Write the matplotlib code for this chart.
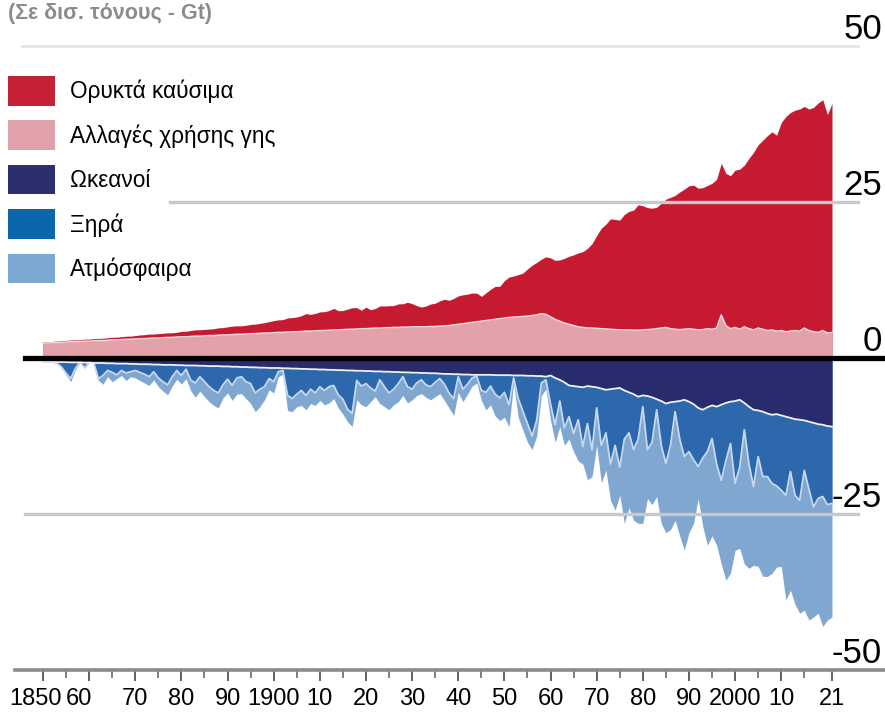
import numpy as np
import matplotlib.pyplot as plt
from matplotlib.patches import Patch
from matplotlib.transforms import ScaledTranslation

plt.rcParams['font.family'] = ['Liberation Sans', 'DejaVu Sans']

years = np.arange(1850, 2022)

# Emissions (Gt CO2 / year)
fossil = [
    0.20, 0.20, 0.21, 0.23, 0.26, 0.27, 0.29, 0.29, 0.29, 0.31,
    0.33, 0.35, 0.35, 0.37, 0.40, 0.42, 0.43, 0.47, 0.49, 0.51,
    0.54, 0.59, 0.64, 0.68, 0.64, 0.70, 0.71, 0.73, 0.74, 0.77,
    0.86, 0.89, 0.95, 1.01, 1.03, 1.03, 1.04, 1.09, 1.18, 1.17,
    1.29, 1.35, 1.36, 1.34, 1.40, 1.48, 1.53, 1.60, 1.67, 1.82,
    1.95, 2.01, 2.05, 2.27, 2.27, 2.37, 2.53, 2.82, 2.68, 2.79,
    2.99, 3.02, 3.16, 3.45, 3.08, 3.05, 3.24, 3.45, 3.42, 2.95,
    3.44, 2.99, 3.12, 3.54, 3.49, 3.53, 3.50, 3.77, 3.74, 3.98,
    3.71, 3.39, 3.16, 3.33, 3.60, 3.74, 4.06, 4.26, 4.04, 4.24,
    4.55, 4.62, 4.63, 4.71, 4.59, 3.98, 4.43, 4.91, 5.28, 5.18,
    6.00, 6.47, 6.58, 6.76, 6.95, 7.57, 8.06, 8.41, 8.73, 9.21,
    9.44, 9.44, 9.81, 10.37, 10.90, 11.33, 11.82, 12.15, 12.76, 13.54,
    14.87, 16.10, 16.80, 17.70, 17.65, 17.60, 18.50, 19.00, 19.25, 20.10,
    19.90, 19.55, 19.40, 19.45, 20.00, 20.55, 21.05, 21.45, 22.05, 22.45,
    22.90, 23.10, 22.70, 22.75, 22.95, 23.40, 23.85, 24.30, 24.38, 24.51,
    25.21, 25.65, 25.90, 27.29, 28.47, 29.38, 30.29, 31.24, 31.75, 31.39,
    33.33, 34.49, 35.04, 35.32, 35.60, 35.51, 35.49, 35.96, 36.77, 36.98,
    35.01, 36.69,
]
land_use = [
    2.40, 2.40, 2.45, 2.50, 2.50, 2.55, 2.60, 2.60, 2.65, 2.70,
    2.70, 2.75, 2.80, 2.80, 2.85, 2.90, 2.90, 2.95, 3.00, 3.00,
    3.05, 3.10, 3.10, 3.15, 3.20, 3.20, 3.25, 3.30, 3.30, 3.35,
    3.40, 3.40, 3.45, 3.50, 3.50, 3.55, 3.60, 3.60, 3.65, 3.70,
    3.70, 3.75, 3.80, 3.80, 3.85, 3.90, 3.90, 3.95, 4.00, 4.00,
    4.05, 4.10, 4.10, 4.15, 4.20, 4.20, 4.25, 4.30, 4.30, 4.35,
    4.40, 4.40, 4.45, 4.50, 4.50, 4.55, 4.60, 4.60, 4.65, 4.70,
    4.70, 4.75, 4.80, 4.80, 4.85, 4.85, 4.90, 4.90, 4.95, 4.95,
    5.00, 5.00, 5.00, 5.00, 5.05, 5.05, 5.10, 5.15, 5.20, 5.30,
    5.40, 5.50, 5.60, 5.70, 5.80, 5.90, 6.00, 6.10, 6.20, 6.30,
    6.40, 6.50, 6.55, 6.60, 6.65, 6.70, 6.80, 6.90, 7.10, 7.00,
    6.60, 6.20, 5.90, 5.60, 5.40, 5.20, 5.00, 4.90, 4.80, 4.80,
    4.75, 4.70, 4.65, 4.60, 4.55, 4.50, 4.50, 4.50, 4.45, 4.45,
    4.50, 4.55, 4.60, 4.70, 4.80, 4.90, 4.70, 4.60, 4.55, 4.60,
    4.70, 4.60, 4.50, 4.55, 4.70, 4.60, 4.80, 6.90, 5.20, 4.70,
    4.90, 4.60, 5.00, 4.70, 4.50, 4.80, 4.60, 4.40, 4.50, 4.30,
    4.40, 4.20, 4.30, 4.40, 4.30, 4.80, 4.40, 4.20, 4.10, 4.40,
    4.00, 4.10,
]

# Sinks (Gt CO2 / year, shown below zero)
ocean = [
    0.60, 0.60, 0.60, 0.65, 0.65, 0.65, 0.70, 0.70, 0.70, 0.75,
    0.75, 0.80, 0.80, 0.80, 0.85, 0.85, 0.90, 0.90, 0.90, 0.95,
    0.95, 1.00, 1.00, 1.00, 1.05, 1.05, 1.10, 1.10, 1.10, 1.15,
    1.15, 1.20, 1.20, 1.20, 1.25, 1.25, 1.30, 1.30, 1.30, 1.35,
    1.35, 1.40, 1.40, 1.45, 1.45, 1.50, 1.50, 1.55, 1.55, 1.60,
    1.60, 1.60, 1.65, 1.65, 1.70, 1.70, 1.75, 1.75, 1.80, 1.80,
    1.85, 1.85, 1.90, 1.90, 1.95, 1.95, 2.00, 2.00, 2.05, 2.05,
    2.10, 2.10, 2.15, 2.15, 2.20, 2.20, 2.25, 2.25, 2.30, 2.30,
    2.35, 2.35, 2.40, 2.40, 2.45, 2.45, 2.50, 2.55, 2.55, 2.60,
    2.60, 2.65, 2.65, 2.70, 2.70, 2.70, 2.70, 2.70, 2.75, 2.75,
    2.75, 2.75, 2.80, 2.80, 2.80, 2.85, 2.85, 2.90, 2.90, 3.00,
    2.80, 3.20, 3.50, 3.90, 4.40, 4.50, 4.60, 4.70, 4.50, 4.60,
    4.70, 4.90, 5.10, 5.00, 4.90, 4.80, 5.20, 5.50, 5.80, 6.20,
    6.00, 6.10, 6.30, 6.60, 6.90, 7.30, 7.10, 7.00, 6.90, 6.70,
    7.00, 7.40, 8.00, 8.30, 7.90, 7.60, 7.80, 7.50, 7.20, 7.00,
    6.90, 6.70, 7.20, 7.80, 8.30, 8.40, 8.60, 8.90, 9.10, 9.00,
    9.20, 9.40, 9.60, 9.80, 9.90, 10.00, 10.20, 10.40, 10.60, 10.70,
    10.90, 11.00,
]
land = [
    0.00, 0.00, 0.00, 0.20, 0.80, 1.80, 2.60, 1.00, 0.00, 0.80,
    0.00, 0.00, 2.50, 2.00, 1.15, 1.45, 1.80, 1.10, 1.50, 1.25,
    1.05, 1.30, 1.60, 2.00, 1.15, 2.15, 2.70, 3.20, 1.90, 0.85,
    1.65, 0.60, 2.30, 2.80, 1.75, 2.55, 3.30, 3.90, 4.30, 2.95,
    2.05, 3.00, 1.80, 1.55, 2.35, 2.60, 4.10, 3.45, 3.05, 1.70,
    2.20, 0.60, 0.35, 4.35, 4.80, 4.10, 3.45, 4.25, 3.20, 3.80,
    2.75, 3.35, 2.70, 2.50, 3.95, 4.65, 6.20, 6.90, 1.55, 2.45,
    2.00, 2.70, 3.15, 1.35, 2.40, 3.40, 2.75, 1.85, 0.70, 2.30,
    2.65, 1.65, 1.10, 1.90, 2.15, 1.45, 0.80, 1.65, 3.05, 3.90,
    0.40, 2.35, 1.55, 0.50, 0.20, 2.50, 2.80, 1.80, 3.05, 3.65,
    2.75, 4.75, 0.40, 3.70, 5.70, 7.65, 9.65, 7.10, 1.10, 0.50,
    4.60, 7.50, 3.40, 7.30, 5.00, 7.60, 5.30, 9.50, 6.00, 10.10,
    3.30, 9.10, 6.90, 12.00, 9.10, 12.70, 7.80, 6.50, 8.90, 6.80,
    1.80, 8.60, 7.20, 1.70, 7.10, 9.60, 6.90, 1.60, 6.10, 9.10,
    8.00, 8.90, 9.40, 7.70, 7.10, 5.30, 9.20, 12.10, 9.30, 6.70,
    13.20, 10.80, 4.30, 9.20, 12.30, 7.40, 10.40, 10.10, 11.00, 11.50,
    12.00, 12.60, 8.60, 12.20, 12.90, 8.00, 10.80, 13.50, 11.90, 11.50,
    12.60, 12.30,
]
atmosphere = [
    0.00, 0.00, 0.00, 0.00, 0.10, 0.30, 0.50, 0.20, 0.00, 0.10,
    0.00, 0.00, 0.30, 1.40, 1.00, 1.50, 0.60, 0.80, 1.20, 0.80,
    1.20, 1.30, 1.40, 1.40, 1.30, 1.40, 1.50, 1.60, 1.50, 1.40,
    1.40, 1.50, 1.70, 2.30, 2.30, 2.40, 2.40, 2.40, 2.40, 2.10,
    2.20, 2.40, 2.60, 2.70, 2.70, 3.20, 3.00, 2.80, 2.10, 1.80,
    1.80, 0.80, 0.60, 2.40, 2.10, 2.00, 2.40, 2.30, 2.30, 2.00,
    2.20, 2.30, 2.60, 2.10, 2.10, 2.40, 2.00, 2.10, 3.10, 3.00,
    3.70, 2.20, 0.90, 3.80, 3.20, 2.70, 2.50, 2.90, 3.00, 2.60,
    1.70, 2.00, 2.20, 2.00, 2.10, 2.30, 2.40, 2.60, 2.40, 2.70,
    2.50, 2.00, 1.60, 1.30, 1.10, 1.60, 2.80, 3.00, 3.50, 3.60,
    4.00, 3.50, 0.80, 3.00, 3.00, 3.00, 2.20, 2.50, 2.00, 1.50,
    2.60, 2.80, 4.10, 2.80, 3.60, 2.90, 6.60, 2.80, 9.00, 4.30,
    6.00, 6.00, 6.00, 5.80, 10.40, 4.50, 13.50, 12.00, 11.30, 13.50,
    18.70, 7.80, 10.00, 13.90, 12.50, 11.10, 13.50, 17.40, 15.50, 15.00,
    13.00, 10.20, 5.10, 11.00, 15.00, 15.60, 13.00, 13.40, 19.10, 20.80,
    10.70, 13.00, 21.50, 16.70, 12.60, 17.60, 16.00, 16.00, 14.40, 13.00,
    12.20, 16.80, 19.00, 17.50, 18.10, 22.40, 21.00, 17.60, 18.40, 20.80,
    18.50, 18.20,
]

labels = ['Ορυκτά καύσιμα', 'Αλλαγές χρήσης γης', 'Ωκεανοί', 'Ξηρά', 'Ατμόσφαιρα']
colors = ['#c51a30', '#e3a2a9', '#282b6c', '#2c68ab', '#80a7cf']
legend_colors = ['#c42234', '#e1a1aa', '#2b2f6d', '#0c66ac', '#7aa8d0']

tick_years = [1850, 1860, 1870, 1880, 1890, 1900, 1910, 1920, 1930, 1940,
              1950, 1960, 1970, 1980, 1990, 2000, 2010, 2021]
tick_labels = ['1850', '60', '70', '80', '90', '1900', '10', '20', '30', '40',
               '50', '60', '70', '80', '90', '2000', '10', '21']
y_levels = [50, 25, 0, -25, -50]

fossil = np.array(fossil)
land_use = np.array(land_use)
ocean = np.array(ocean)
land = np.array(land)
atmosphere = np.array(atmosphere)

pos_top = land_use + fossil
neg_land = -(ocean + land)
neg_total = -(ocean + land + atmosphere)

fig = plt.figure(figsize=(8.85, 7.14), dpi=100)
ax = fig.add_axes([15/885, 44/714, 870/885, 670/714])
ax.set_xlim(1843.93, 2032.49)
ax.set_ylim(-50, 57.37)

# positive side: red drawn to full height, pink on top of it
ax.fill_between(years, 0, pos_top, color=colors[0], lw=0, zorder=2)
ax.fill_between(years, 0, land_use, color=colors[1], lw=0, zorder=3)
ax.plot(years, land_use, color='#f6d9dc', lw=1.1, zorder=4)

# negative side
ax.fill_between(years, 0, neg_total, color=colors[4], lw=0, zorder=2)
ax.fill_between(years, 0, neg_land, color=colors[3], lw=0, zorder=3)
ax.fill_between(years, 0, -ocean, color=colors[2], lw=0, zorder=4)
ax.plot(years, neg_land, color='#c6d8ef', lw=1.3, zorder=5)
ax.plot(years, -ocean, color='#eef2fa', lw=1.3, zorder=5)

# horizontal rules
ax.axhline(50, xmin=7/870, xmax=843/870, color='#e4e4e4', lw=2, zorder=6)
ax.axhline(25, xmin=155/870, xmax=843/870, color='#c9c9c9', lw=2.4, zorder=6)
ax.axhline(-25, xmin=10/870, xmax=843/870, color='#c9c9c9', lw=2.4, zorder=6)
ax.axhline(0, xmin=10/870, xmax=1, color='black', lw=3.8, zorder=7)

for v in y_levels:
    ax.text(0.9966, v + 1.2, str(v), transform=ax.get_yaxis_transform(),
            ha='right', va='baseline', fontsize=25, color='black', zorder=8)

for s in ['top', 'left', 'right']:
    ax.spines[s].set_visible(False)
ax.spines['bottom'].set_color('#8a8a8a')
ax.spines['bottom'].set_linewidth(2.6)
ax.set_yticks([])
ax.set_xticks(tick_years, tick_labels)
ax.set_xticks(np.arange(1855, 2021, 10), minor=True)
ax.tick_params(axis='x', which='major', length=8, width=1.3, color='#555555',
               pad=5, labelsize=17)
ax.tick_params(axis='x', which='minor', length=6, width=1.2, color='#666666')
xlabs = ax.get_xticklabels()
# the first two labels sit squeezed to the left in the original
xlabs[0].set_transform(xlabs[0].get_transform() + ScaledTranslation(-0.08, 0, fig.dpi_scale_trans))
xlabs[1].set_transform(xlabs[1].get_transform() + ScaledTranslation(-0.10, 0, fig.dpi_scale_trans))

handles = [Patch(facecolor=c, edgecolor='none') for c in legend_colors]
ax.legend(handles, labels, loc='upper left', bbox_to_anchor=(8/885, 1 - 76/714),
          bbox_transform=fig.transFigure, frameon=False, fontsize=16.3,
          handlelength=2.08, handleheight=1.63, labelspacing=0.66,
          handletextpad=0.66, borderpad=0, borderaxespad=0)

fig.text(8/885, 1 - 19/714, '(Σε δισ. τόνους - Gt)', ha='left', va='baseline',
         fontsize=15.5, fontweight='bold', color='#8c8c8c')

fig.savefig('out.png', dpi=100)
